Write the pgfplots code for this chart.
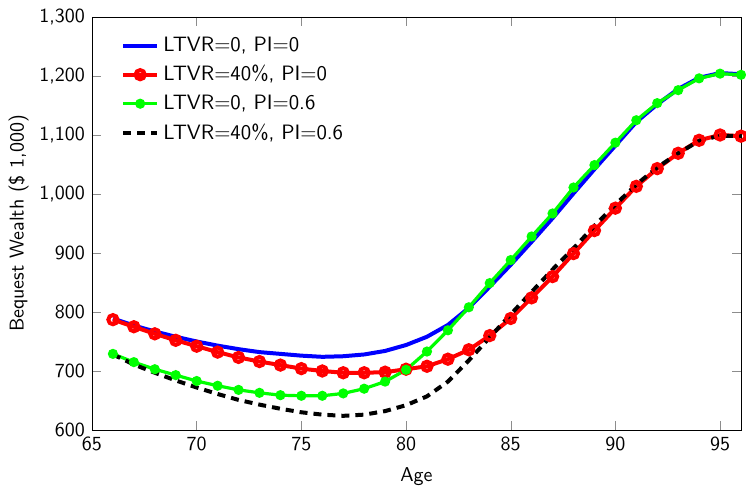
\documentclass[border=0pt]{standalone}
\usepackage{pgfplots}
\pgfplotsset{compat=1.18}
\begin{document}
\begin{tikzpicture}
\begin{axis}[
  name=ax,
  scale only axis,
  width=324.5pt, height=206.5pt,
  xmin=65, xmax=96, ymin=600, ymax=1300,
  xtick={65,70,...,95},
  ytick={600,700,...,1300},
  /pgf/number format/1000 sep={,},
  /pgf/number format/assume math mode=true,
  tick label style={font=\sffamily},
  label style={font=\sffamily},
  xlabel style={yshift=-1.6pt},
  ylabel style={yshift=-1.5pt},
  major tick style={black!45},
  tick align=inside,
  xlabel={Age},
  ylabel={Bequest Wealth (\$ 1,000)},
  legend style={draw=none, fill=none, font=\sffamily\fontsize{10.4}{12}\selectfont, at={(0.035,0.972)}, anchor=north west, row sep=1.5pt},
  legend cell align=left,
]
\addplot[color=blue, line width=2pt] coordinates {
(66,789)(67,777)(68,767)(69,758)(70,750)(71,743)(72,737)(73,732)(74,729)(75,726)
(76,724)(77,725)(78,728)(79,734)(80,744)(81,758)(82,778)(83,807)(84,843)(85,880)
(86,919)(87,959)(88,1001)(89,1042)(90,1082)(91,1122)(92,1152)(93,1178)(94,1197)(95,1205)(96,1203)};
\addlegendentry{LTVR=0, PI=0}
\addplot[color=red, line width=2pt, mark=o, mark size=2.3pt, mark options={solid}] coordinates {
(66,787)(67,775)(68,763)(69,752)(70,742)(71,732)(72,723)(73,716)(74,710)(75,704)
(76,700)(77,697)(78,697)(79,698)(80,703)(81,708)(82,720)(83,736)(84,760)(85,789)
(86,824)(87,860)(88,899)(89,938)(90,976)(91,1013)(92,1043)(93,1069)(94,1091)(95,1100)(96,1098)};
\addlegendentry{LTVR=40\%, PI=0}
\addplot[color=green, line width=1.6pt, mark=*, mark size=1.7pt] coordinates {
(66,729)(67,715)(68,703)(69,693)(70,683)(71,675)(72,668)(73,663)(74,659)(75,658)
(76,658)(77,662)(78,670)(79,682)(80,702)(81,733)(82,769)(83,808)(84,849)(85,888)
(86,928)(87,967)(88,1011)(89,1049)(90,1087)(91,1125)(92,1154)(93,1176)(94,1196)(95,1204)(96,1202)};
\addlegendentry{LTVR=0, PI=0.6}
\addplot[color=black, line width=2pt, dash pattern=on 4pt off 3pt] coordinates {
(66,728)(67,711)(68,697)(69,684)(70,672)(71,661)(72,651)(73,643)(74,636)(75,630)
(76,626)(77,624)(78,626)(79,632)(80,642)(81,657)(82,682)(83,718)(84,757)(85,796)
(86,834)(87,872)(88,908)(89,946)(90,982)(91,1016)(92,1045)(93,1069)(94,1090)(95,1099)(96,1098)};
\addlegendentry{LTVR=40\%, PI=0.6}
\end{axis}
\pgfresetboundingbox
\path[use as bounding box] ([shift={(-46pt,-28pt)}]ax.south west) rectangle ([shift={(327pt,215pt)}]ax.south west);
\end{tikzpicture}
\end{document}
